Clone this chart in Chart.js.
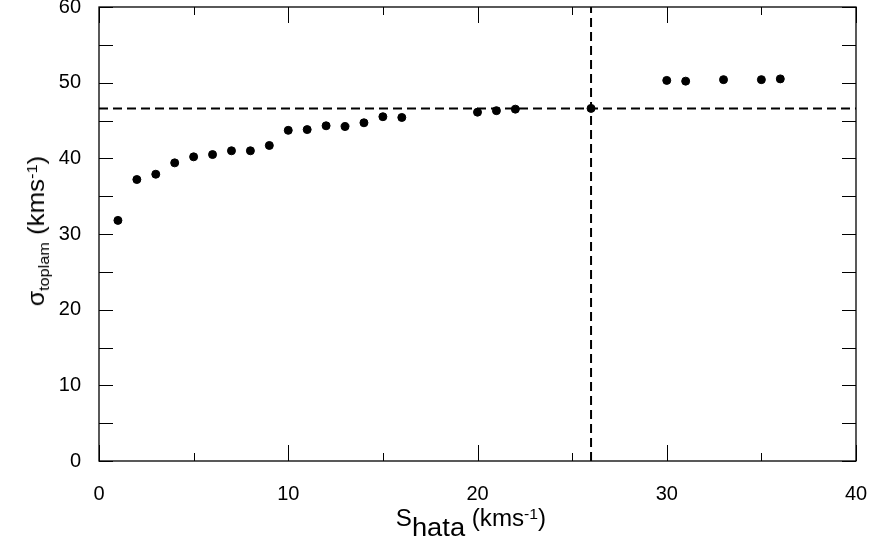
<!DOCTYPE html>
<html>
<head>
<meta charset="utf-8">
<script src="https://cdn.jsdelivr.net/npm/chart.js@4.4.1/dist/chart.umd.min.js"></script>
<style>
  body { margin: 0; background: #fff; }
  #wrap { position: relative; width: 871px; height: 547px; }
  canvas { display: block; }
  .axt { position: absolute; font-family: "Liberation Sans", Arial, sans-serif; color: #000; white-space: nowrap; line-height: 26px; height: 26px; }
  #xt { left: 471px; top: 517px; transform: translate(-50%, -50%) scaleX(1.05); }
  #yt { left: 36px; top: 231px; transform: translate(-50%, -50%) rotate(-90deg) scaleX(1.08); }
  .sb { position: relative; }
  .sp { font-size: 15px; position: relative; top: -7px; }
</style>
</head>
<body>
<div id="wrap">
  <canvas id="chart" width="871" height="547"></canvas>
  <div id="xt" class="axt"><span style="font-size:23px">S</span><span class="sb" style="font-size:26px;top:10px">hata</span><span style="font-size:23px"> (kms</span><span class="sp">-1</span><span style="font-size:23px">)</span></div>
  <div id="yt" class="axt"><span style="font-size:23px">σ</span><span class="sb" style="font-size:15px;top:5px">toplam</span><span style="font-size:24px"> (kms</span><span class="sp">-1</span><span style="font-size:24px">)</span></div>
</div>
<script>
// measured points
const sHata = [1, 2, 3, 4, 5, 6, 7, 8, 9, 10, 11, 12, 13, 14, 15, 16, 20, 21, 22, 26, 30, 31, 33, 35, 36];
const sigmaToplam = [31.8, 37.2, 37.9, 39.4, 40.2, 40.5, 41.0, 41.0, 41.7, 43.7, 43.8, 44.3, 44.2, 44.7, 45.5, 45.4, 46.1, 46.3, 46.5, 46.6, 50.3, 50.2, 50.4, 50.4, 50.5];

// dashed reference lines
const refSigma = 46.6;
const refS = 26;

// axis ticks
const xMajor = [0, 10, 20, 30, 40];
const xMinor = [5, 15, 25, 35];
const yTicks = [0, 5, 10, 15, 20, 25, 30, 35, 40, 45, 50, 55, 60];

const points = sHata.map((x, i) => ({ x: x, y: sigmaToplam[i] }));

// box frame + inward ticks on all sides
const frameTicks = {
  id: 'frameTicks',
  afterDraw(chart) {
    const ctx = chart.ctx;
    const a = chart.chartArea;
    const xs = chart.scales.x, ys = chart.scales.y;
    ctx.save();
    ctx.strokeStyle = '#000';
    ctx.lineWidth = 1;
    ctx.beginPath();
    xMajor.concat(xMinor).forEach(v => {
      const px = Math.round(xs.getPixelForValue(v)) + 0.5;
      const len = xMajor.includes(v) ? 16 : 8;
      ctx.moveTo(px, a.bottom); ctx.lineTo(px, a.bottom - len);
      ctx.moveTo(px, a.top); ctx.lineTo(px, a.top + len);
    });
    yTicks.forEach(v => {
      const py = Math.round(ys.getPixelForValue(v)) + 0.5;
      ctx.moveTo(a.left, py); ctx.lineTo(a.left + 14, py);
      ctx.moveTo(a.right, py); ctx.lineTo(a.right - 14, py);
    });
    ctx.stroke();
    ctx.lineWidth = 1.3;
    ctx.strokeRect(a.left, a.top, a.right - a.left, a.bottom - a.top);
    ctx.restore();
  }
};

new Chart(document.getElementById('chart'), {
  type: 'scatter',
  data: {
    datasets: [
      {
        data: points,
        backgroundColor: '#000',
        borderColor: '#000',
        pointRadius: 4,
        pointHoverRadius: 4
      },
      {
        type: 'line',
        data: [{ x: 0, y: refSigma }, { x: 40, y: refSigma }],
        borderColor: '#000',
        borderWidth: 2,
        borderDash: [9, 5],
        pointRadius: 0,
        fill: false
      },
      {
        type: 'line',
        data: [{ x: refS, y: 0 }, { x: refS, y: 60 }],
        borderColor: '#000',
        borderWidth: 2,
        borderDash: [9, 5],
        pointRadius: 0,
        fill: false
      }
    ]
  },
  options: {
    responsive: false,
    animation: false,
    events: [],
    layout: { padding: { left: 0, right: 15, top: 7, bottom: 0 } },
    plugins: { legend: { display: false }, tooltip: { enabled: false } },
    scales: {
      x: {
        type: 'linear',
        min: 0, max: 40,
        grid: { display: false, drawTicks: false },
        border: { display: false },
        ticks: {
          stepSize: 10, padding: 21, color: '#000',
          font: { family: '"Liberation Sans", Arial, sans-serif', size: 20 }
        },
        afterFit(scale) { scale.height = 86; scale.paddingLeft = 0; scale.paddingRight = 0; }
      },
      y: {
        min: 0, max: 60,
        grid: { display: false, drawTicks: false },
        border: { display: false },
        ticks: {
          stepSize: 10, padding: 18, color: '#000',
          font: { family: '"Liberation Sans", Arial, sans-serif', size: 20 }
        },
        afterFit(scale) { scale.width = 99; scale.paddingTop = 0; scale.paddingBottom = 0; }
      }
    }
  },
  plugins: [frameTicks]
});
</script>
</body>
</html>
